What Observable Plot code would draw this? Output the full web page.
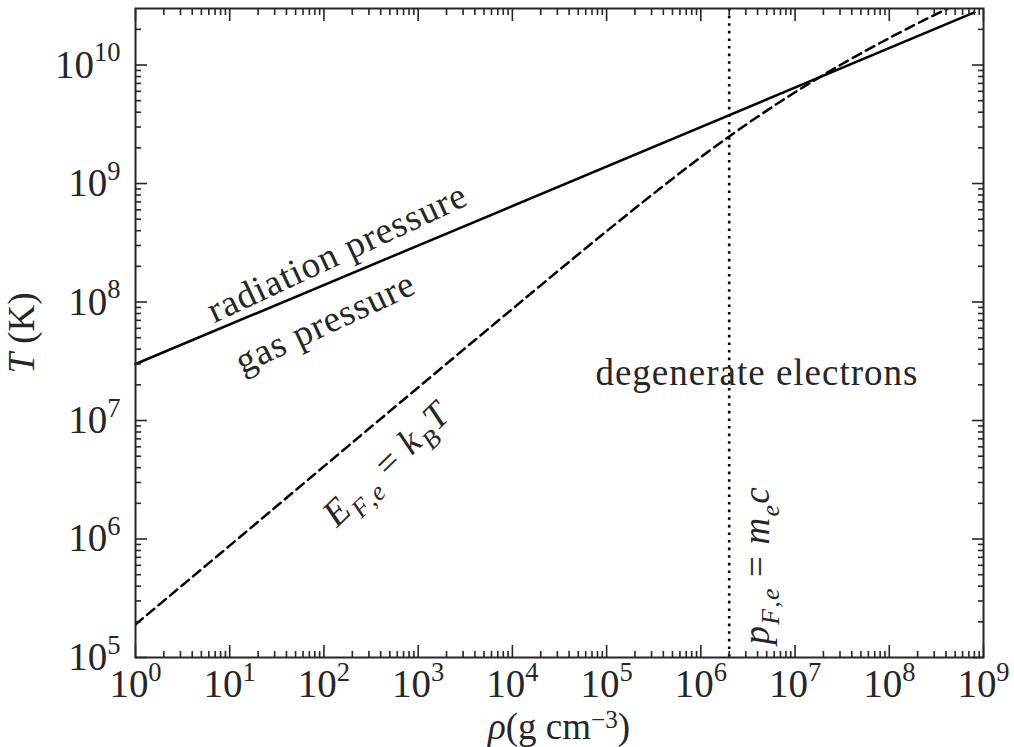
<!DOCTYPE html>
<html><head><meta charset="utf-8">
<script src="https://cdn.jsdelivr.net/npm/d3@7"></script>
<script src="https://cdn.jsdelivr.net/npm/@observablehq/plot@0.6"></script>
<style>body{margin:0;background:#fff}</style>
</head><body><div id="chart"></div>
<script>
// Solid line: radiation pressure = gas pressure
const densityRad = [1, 8e8];
const tempRad = [3e7, 2.78e10];
// Dashed line: E_F,e = k_B T
const densityFermi = [1, 10, 100, 1e3, 1e4, 1e5, 3.16e5, 1e6, 3.16e6, 1e7, 3.16e7, 1e8, 2.51e8, 3.98e8, 5.01e8];
const tempFermi = [1.9e5, 8.8e5, 4.1e6, 1.9e7, 8.75e7, 3.96e8, 8.24e8, 1.67e9, 3.22e9, 5.89e9, 1.02e10, 1.69e10, 2.46e10, 2.95e10, 3.22e10];
// Dotted line: p_F,e = m_e c
const densityRel = [2e6];
// Plain annotations
const noteText = ["radiation pressure", "gas pressure", "degenerate electrons"];
const noteRho = [138, 103, 3.94e6];
const noteT = [2.6e8, 6.7e7, 2.53e7];
const noteAngle = [-25, -25, 0];
// Math annotations
const mathKey = ["@EF@", "@pF@"];
const mathRho = [460, 3.94e6];
const mathT = [4.3e6, 6.0e5];
const mathAngle = [-44, -90];
// Tick values
const xMajor = [1, 10, 100, 1e3, 1e4, 1e5, 1e6, 1e7, 1e8, 1e9];
const yMajor = [1e5, 1e6, 1e7, 1e8, 1e9, 1e10];
const xMinor = xMajor.slice(0, -1).flatMap(d => [2,3,4,5,6,7,8,9].map(k => k * d));
const yMinor = yMajor.flatMap(d => [2,3,4,5,6,7,8,9].map(k => k * d)).filter(v => v < 2.95e10);

const FS = 37;   // annotation / label size
const TFS = 39;  // tick label size
const INK = "#262626";
const rad = densityRad.map((d, i) => ({rho: d, T: tempRad[i]}));
const fermi = densityFermi.map((d, i) => ({rho: d, T: tempFermi[i]}));
const notes = noteText.map((t, i) => ({t, rho: noteRho[i], T: noteT[i], a: noteAngle[i]}));
const maths = mathKey.map((t, i) => ({t, rho: mathRho[i], T: mathT[i], a: mathAngle[i]}));

const expo = d => String(Math.round(Math.log10(d)));
const blank = () => "";
const axisCommon = {label: null, stroke: INK, strokeWidth: 1.6, fill: INK, fontSize: TFS};

const svg = Plot.plot({
  width: 1014, height: 747,
  marginLeft: 135, marginRight: 31, marginTop: 8, marginBottom: 90,
  x: {type: "log", domain: [1, 1e9]},
  y: {type: "log", domain: [1e5, 3e10]},
  style: {fontFamily: "'Liberation Serif', serif", fontSize: FS + "px", color: INK, background: "white"},
  marks: [
    Plot.ruleX(densityRel, {stroke: "black", strokeWidth: 2.6, strokeDasharray: "2.6,5"}),
    Plot.line(rad, {x: "rho", y: "T", stroke: "black", strokeWidth: 2.5}),
    Plot.line(fermi, {x: "rho", y: "T", stroke: "black", strokeWidth: 2.5, strokeDasharray: "9.5,5.5", curve: "monotone-x", clip: true}),
    Plot.text(notes, {x: "rho", y: "T", text: "t", rotate: "a", fontSize: FS, fill: INK, textAnchor: "middle", lineAnchor: "middle"}),
    Plot.text(maths, {x: "rho", y: "T", text: "t", rotate: "a", fontSize: FS, fill: INK, textAnchor: "middle", lineAnchor: "middle"}),
    Plot.frame({stroke: INK, strokeWidth: 2}),
    Plot.axisX({...axisCommon, anchor: "bottom", ticks: xMajor, tickSize: -12, tickPadding: 24, tickFormat: expo}),
    Plot.axisX({...axisCommon, anchor: "bottom", ticks: xMinor, tickSize: -6, tickFormat: blank}),
    Plot.axisX({...axisCommon, anchor: "top", ticks: xMajor, tickSize: -12, tickFormat: blank}),
    Plot.axisX({...axisCommon, anchor: "top", ticks: xMinor, tickSize: -6, tickFormat: blank}),
    Plot.axisY({...axisCommon, anchor: "left", ticks: yMajor, tickSize: -12, tickPadding: 27, tickFormat: expo}),
    Plot.axisY({...axisCommon, anchor: "left", ticks: yMinor, tickSize: -6, tickFormat: blank}),
    Plot.axisY({...axisCommon, anchor: "right", ticks: yMajor, tickSize: -12, tickFormat: blank}),
    Plot.axisY({...axisCommon, anchor: "right", ticks: yMinor, tickSize: -6, tickFormat: blank})
  ]
});

const S = d3.select(svg);
// superscript exponents on tick labels
S.selectAll('g[aria-label="x-axis tick label"] text, g[aria-label="y-axis tick label"] text').each(function() {
  const e = this.textContent;
  if (!e) return;
  const t = d3.select(this);
  t.text("10");
  t.append("tspan").attr("dy", -0.42 * TFS).attr("font-size", 0.68 * TFS).text(e);
});

function mathify(el, segs) {
  const t = d3.select(el);
  t.text(null);
  let low = false;
  for (const [s, it, sub] of segs) {
    const ts = t.append("tspan").text(s);
    if (it) ts.attr("font-style", "italic");
    if (sub && !low) { ts.attr("dy", 0.28 * FS); low = true; }
    else if (!sub && low) { ts.attr("dy", -0.28 * FS); low = false; }
    if (sub) ts.attr("font-size", 0.7 * FS);
  }
}
const mathSegs = {
  "@EF@": [["E", 1, 0], ["F", 1, 1], [",", 0, 1], ["e", 1, 1], [" = ", 0, 0], ["k", 1, 0], ["B", 1, 1], ["T", 1, 0]],
  "@pF@": [["p", 1, 0], ["F", 1, 1], [",", 0, 1], ["e", 1, 1], [" = ", 0, 0], ["m", 1, 0], ["e", 1, 1], ["c", 1, 0]]
};
S.selectAll("text").each(function() {
  const k = this.textContent;
  if (mathSegs[k]) { mathify(this, mathSegs[k]); d3.select(this).attr("letter-spacing", 1.2); }
  else if (noteText.includes(k)) d3.select(this).attr("letter-spacing", 1);
});

// axis labels
const cx = (135 + (1014 - 31)) / 2;
const xl = S.append("text").attr("x", cx).attr("y", 739).attr("text-anchor", "middle").attr("fill", INK).attr("font-size", FS);
xl.append("tspan").attr("font-style", "italic").text("ρ");
xl.append("tspan").text("(g cm");
xl.append("tspan").attr("dy", -0.3 * FS).attr("font-size", 0.68 * FS).text("−3");
xl.append("tspan").attr("dy", 0.3 * FS).text(")");
const yl = S.append("text").attr("transform", "translate(34,333) rotate(-90)").attr("text-anchor", "middle").attr("fill", INK).attr("font-size", FS);
yl.append("tspan").attr("font-style", "italic").text("T");
yl.append("tspan").text(" (K)");

document.getElementById("chart").appendChild(svg);
</script>
</body></html>
